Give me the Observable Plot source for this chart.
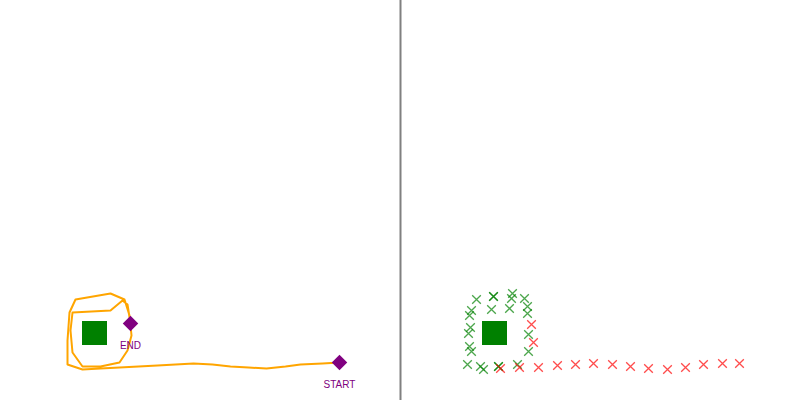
<!DOCTYPE html>
<html><head><meta charset="utf-8">
<script src="https://cdn.jsdelivr.net/npm/d3@7"></script>
<script src="https://cdn.jsdelivr.net/npm/@observablehq/plot@0.6"></script>
<style>body{margin:0;background:#fff;} #chart{width:800px;height:400px;}</style>
</head><body><div id="chart"></div>
<script>
// Panels
const panels = ["trajectory", "detections"];

// Robot trajectory (world units), from START to END
const pathX = [16.95,16.10,15.00,14.25,13.30,12.40,11.50,10.60,9.65,8.75,7.85,6.90,5.95,5.00,4.10,3.35,3.35,3.45,3.75,5.50,6.20,6.45,6.55,6.35,5.95,5.00,4.10,3.60,3.50,3.60,5.50,6.10,6.35,6.50];
const pathY = [1.90,1.85,1.80,1.70,1.60,1.65,1.70,1.80,1.85,1.80,1.75,1.70,1.65,1.60,1.55,1.80,3.00,4.40,5.05,5.35,5.05,4.25,3.25,2.50,1.90,1.70,1.70,2.40,3.50,4.40,4.50,5.00,4.80,3.85];

// Start / end markers
const markerLabels = ["START", "END"];
const markerX = [16.95, 6.50];
const markerY = [1.90, 3.85];

// Obstacle (square)
const obstacleX = [4.10, 5.35];
const obstacleY = [2.75, 3.95];

// Detections: red crosses
const redX = [16.95,16.10,15.15,14.25,13.35,12.40,11.50,10.60,9.65,8.75,7.85,6.90,5.95,5.00,6.65,6.55];
const redY = [1.85,1.85,1.80,1.65,1.55,1.60,1.70,1.80,1.85,1.80,1.75,1.65,1.65,1.60,2.90,3.80];

// Detections: green crosses
const greenX = [3.80,4.65,4.65,5.60,5.55,6.20,6.35,6.35,3.55,3.45,4.55,5.45,3.50,3.40,6.40,3.45,3.55,6.40,3.35,4.00,4.15,4.90,4.90,5.85];
const greenY = [5.05,5.20,5.20,5.35,5.10,5.10,4.70,4.35,4.50,4.25,4.55,4.60,3.65,3.35,3.30,2.70,2.45,2.45,1.80,1.70,1.55,1.70,1.70,1.80];

// Divider position (right edge of first panel)
const dividerX = [20];

const path = pathX.map((x, i) => ({panel: panels[0], x, y: pathY[i]}));
const markers = markerLabels.map((label, i) => ({panel: panels[0], label, x: markerX[i], y: markerY[i]}));
const obstacle = [{x1: obstacleX[0], x2: obstacleX[1], y1: obstacleY[0], y2: obstacleY[1]}];
const red = redX.map((x, i) => ({panel: panels[1], x, y: redY[i]}));
const green = greenX.map((x, i) => ({panel: panels[1], x, y: greenY[i]}));
const divider = dividerX.map(x => ({panel: panels[0], x}));

const chart = Plot.plot({
  width: 800,
  height: 400,
  margin: 0,
  style: {fontFamily: "Liberation Sans, Arial, sans-serif", background: "white"},
  x: {domain: [0, 20], axis: null},
  y: {domain: [0, 20], axis: null},
  fx: {domain: panels, padding: 0, axis: null},
  marks: [
    Plot.rect(obstacle, {x1: "x1", x2: "x2", y1: "y1", y2: "y2", fill: "green"}),
    Plot.line(path, {x: "x", y: "y", fx: "panel", stroke: "orange", strokeWidth: 2}),
    Plot.dot(markers, {x: "x", y: "y", fx: "panel", symbol: "diamond2", r: 7, fill: "purple"}),
    Plot.text(markers, {x: "x", y: "y", fx: "panel", text: "label", dy: 22, fill: "purple", fontSize: 10}),
    Plot.dot(green, {x: "x", y: "y", fx: "panel", symbol: "times", r: 4, stroke: "green", strokeWidth: 1.3, strokeOpacity: 0.7}),
    Plot.dot(red, {x: "x", y: "y", fx: "panel", symbol: "times", r: 4, stroke: "red", strokeWidth: 1.3, strokeOpacity: 0.7}),
    Plot.ruleX(divider, {x: "x", fx: "panel", stroke: "#808080", strokeWidth: 2})
  ]
});
document.getElementById("chart").append(chart);
</script>
</body></html>
